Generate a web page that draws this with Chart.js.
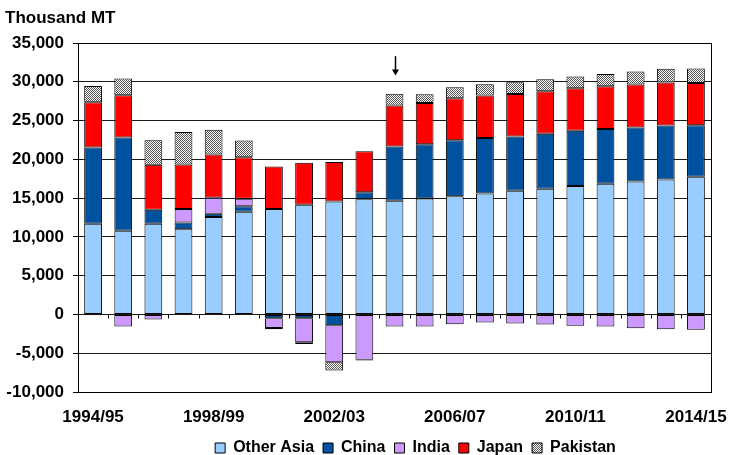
<!DOCTYPE html>
<html>
<head>
<meta charset="utf-8">
<script src="https://cdn.jsdelivr.net/npm/chart.js@4/dist/chart.umd.min.js"></script>
<style>
  html, body { margin: 0; padding: 0; background: #fff; }
  #wrap { width: 742px; height: 455px; }
</style>
</head>
<body>
<div id="wrap"><canvas id="c" width="742" height="455"></canvas></div>
<script>
// Marketing years
const seasons = ['1994/95','1995/96','1996/97','1997/98','1998/99','1999/00','2000/01',
  '2001/02','2002/03','2003/04','2004/05','2005/06','2006/07','2007/08','2008/09',
  '2009/10','2010/11','2011/12','2012/13','2013/14','2014/15'];

// Net imports by destination, thousand metric tons
const otherAsia = [11700,10800,11700,11000,12550,13250,13600,14150,14550,14850,14650,
  14950,15250,15600,15950,16200,16550,16850,17150,17400,17750];
const china = [9820,12000,1800,850,430,690,-500,-500,-1380,910,7000,
  6980,7200,7150,7000,7100,7150,7050,6950,6950,6650];
const india = [-100,-1550,-650,1750,2070,990,-1250,-3100,-4780,-5850,-1550,
  -1550,-1250,-1030,-1160,-1290,-1460,-1550,-1770,-1900,-1980];
const japan = [5850,5470,5810,5730,5560,5340,5480,5420,5120,5290,5290,
  5330,5430,5470,5470,5470,5460,5510,5560,5560,5430];
const pakistan = [2070,2150,3140,4180,3220,2150,-150,-210,-1070,-100,1510,
  1120,1420,1470,1510,1550,1510,1590,1680,1760,1890];

// Value-axis range and the season the arrow marks
const yMin = -10000, yMax = 35000, yStep = 5000;
const markedSeason = '2004/05';
const arrowFrom = 33300, arrowTo = 30800;

const canvas = document.getElementById('c');
const ctx = canvas.getContext('2d');

function checkerPattern() {
  const t = document.createElement('canvas');
  t.width = 2; t.height = 2;
  const g = t.getContext('2d');
  g.fillStyle = '#ffffff'; g.fillRect(0, 0, 2, 2);
  g.fillStyle = '#555555'; g.fillRect(0, 0, 1, 1); g.fillRect(1, 1, 1, 1);
  return ctx.createPattern(t, 'repeat');
}

const FAMILY = '"Liberation Sans", Arial, sans-serif';
const FONT = { family: FAMILY, size: 17, weight: 'bold' };
const LEGEND_FONT = { family: FAMILY, size: 16, weight: 'bold' };

function ds(label, data, color) {
  return {
    label, data, backgroundColor: color,
    borderColor: '#000', borderWidth: 1, borderSkipped: false,
    barPercentage: 0.59, categoryPercentage: 1.0
  };
}

// Frame around the plot, season tick marks on the zero line, and the arrow
const decorations = {
  id: 'decorations',
  afterLayout(chart) {
    const lg = chart.legend;
    if (lg) { lg.left += 49; lg.right += 49; lg.top += 5; lg.bottom += 5; }
  },
  beforeDatasetsDraw(chart) {
    const { ctx, chartArea: a, scales: { y } } = chart;
    ctx.save();
    ctx.strokeStyle = '#000';
    ctx.lineWidth = 1;
    const y0 = Math.round(y.getPixelForValue(0)) + 0.5;
    const n = chart.data.labels.length;
    const w = (a.right - a.left) / n;
    ctx.beginPath();
    for (let i = 1; i < n; i++) {
      const px = Math.round(a.left + i * w) + 0.5;
      ctx.moveTo(px, y0); ctx.lineTo(px, y0 + 4);
    }
    ctx.stroke();
    ctx.restore();
  },
  afterDatasetsDraw(chart) {
    const { ctx, chartArea: a, scales: { x, y } } = chart;
    ctx.save();
    ctx.strokeStyle = '#000';
    ctx.lineWidth = 1;
    ctx.strokeRect(Math.round(a.left) + 0.5, Math.round(a.top) + 0.5,
      Math.round(a.right - a.left), Math.round(a.bottom - a.top));
    // arrow
    const ax = Math.round(x.getPixelForValue(seasons.indexOf(markedSeason))) + 0.5;
    const yA = y.getPixelForValue(arrowFrom), yB = y.getPixelForValue(arrowTo);
    ctx.lineWidth = 1.5;
    ctx.beginPath(); ctx.moveTo(ax, yA); ctx.lineTo(ax, yB - 5); ctx.stroke();
    ctx.fillStyle = '#000';
    ctx.beginPath();
    ctx.moveTo(ax - 3.5, yB - 6); ctx.lineTo(ax + 3.5, yB - 6); ctx.lineTo(ax, yB);
    ctx.closePath(); ctx.fill();
    ctx.restore();
  }
};

new Chart(ctx, {
  type: 'bar',
  data: {
    labels: seasons,
    datasets: [
      ds('Other Asia', otherAsia, '#99ccff'),
      ds('China', china, '#00519e'),
      ds('India', india, '#cc99ff'),
      ds('Japan', japan, '#ff0000'),
      ds('Pakistan', pakistan, checkerPattern())
    ]
  },
  options: {
    responsive: false,
    animation: false,
    layout: { padding: { left: 5, right: 14, top: 0, bottom: 0 } },
    plugins: {
      title: {
        display: true, text: 'Thousand MT', align: 'start', color: '#000',
        font: FONT, padding: { top: 8, bottom: 14.6 }
      },
      legend: {
        position: 'bottom',
        maxHeight: 29,
        labels: { boxWidth: 10, boxHeight: 10, padding: 9, color: '#000', font: LEGEND_FONT }
      },
      tooltip: { enabled: false }
    },
    scales: {
      x: {
        stacked: true,
        grid: { display: false, drawTicks: false, tickLength: 0 },
        border: { display: false },
        ticks: {
          autoSkip: false, maxRotation: 0, minRotation: 0, color: '#000', font: FONT, padding: 15,
          callback: (v, i) => (i % 4 === 0 ? seasons[i] : '')
        },
        afterFit(s) { s.height = 34; }
      },
      y: {
        stacked: true,
        min: yMin, max: yMax,
        grid: { color: '#1a1a1a', tickColor: '#000', tickLength: 5 },
        border: { color: '#000' },
        ticks: {
          stepSize: yStep, color: '#000', font: FONT, padding: 9,
          callback: v => v.toLocaleString('en-US')
        },
        afterFit(s) { s.width = 73; }
      }
    }
  },
  plugins: [decorations]
});
</script>
</body>
</html>
